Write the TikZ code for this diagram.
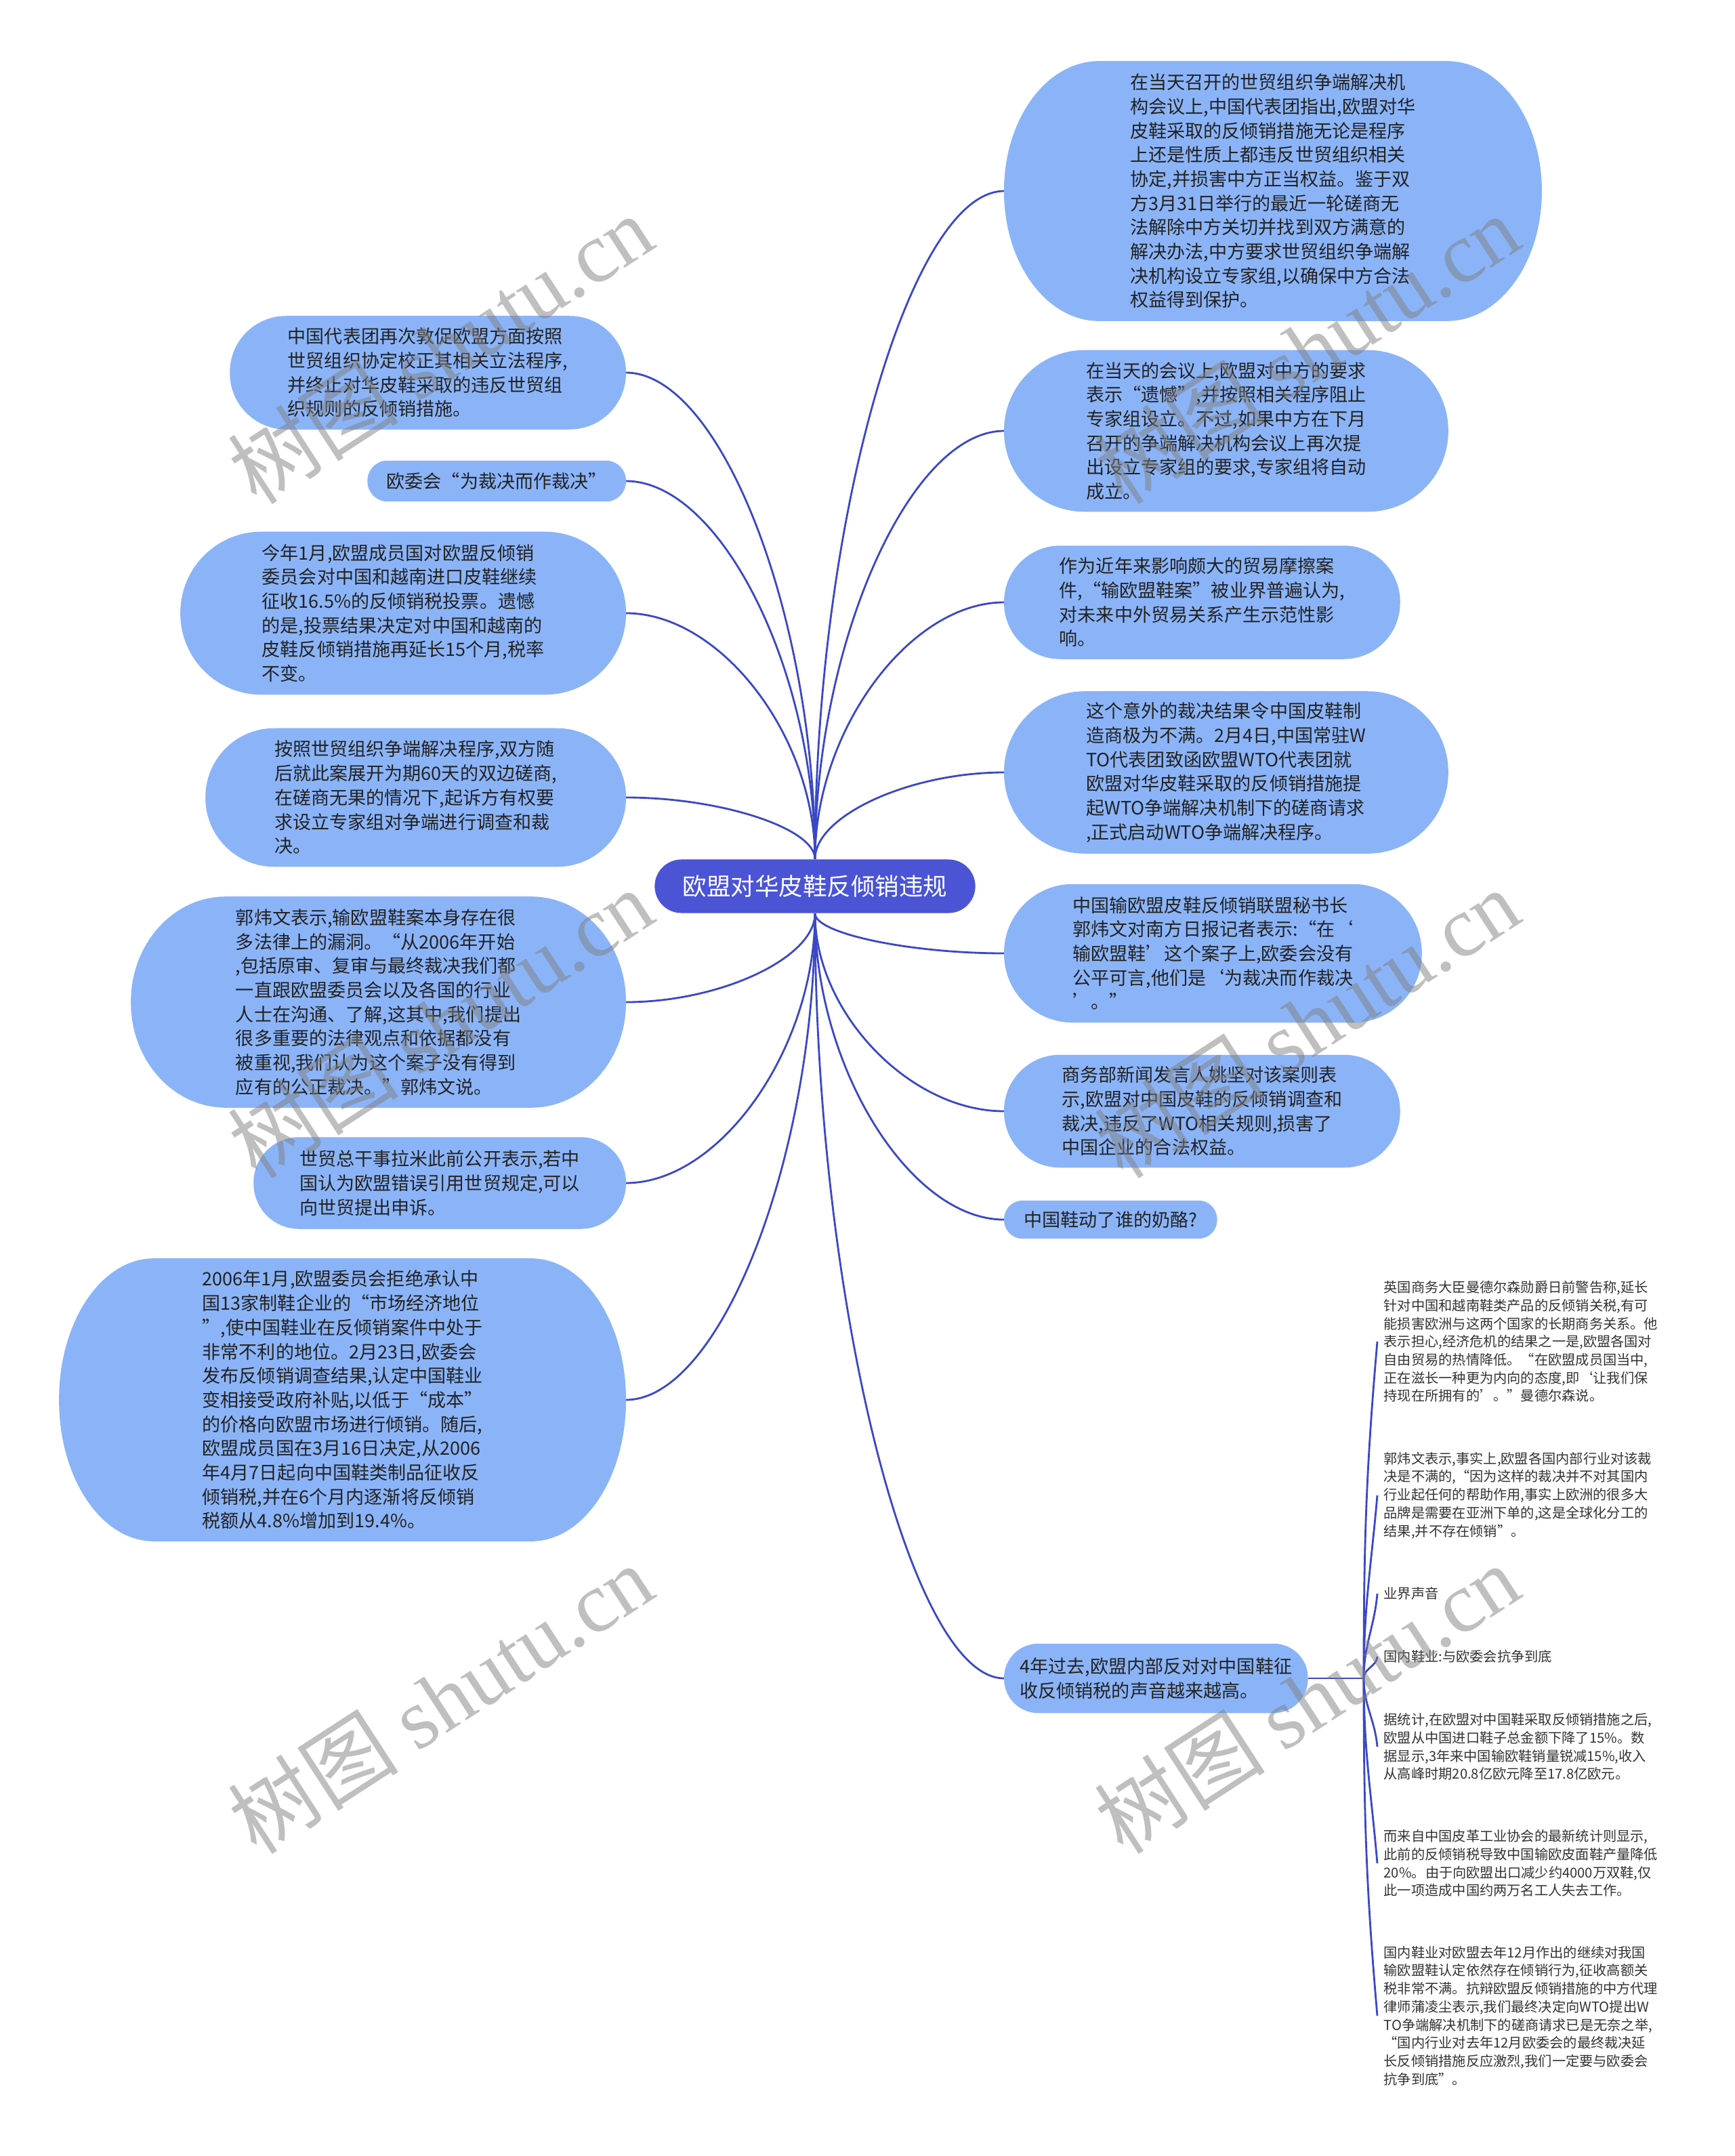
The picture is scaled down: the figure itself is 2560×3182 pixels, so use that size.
\documentclass[tikz,border=0pt]{standalone}
\usepackage{fontspec}
\usepackage{tikz}
\usetikzlibrary{backgrounds,calc}
\newfontfamily\cjk{Noto Sans CJK SC}
\newfontfamily\wmserif{Liberation Serif}
\definecolor{czentro}{HTML}{4A54D5}
\definecolor{clinea}{HTML}{3B48C4}
\definecolor{choja}{HTML}{8BB4F8}
\definecolor{ctinta}{HTML}{222222}
\definecolor{cnota}{HTML}{333333}
\newcommand\hojafont{\cjk\fontsize{7.7pt}{10.15pt}\selectfont}
\newcommand\centrofont{\cjk\fontsize{10.1pt}{12pt}\selectfont}
\newcommand\notafont{\cjk\fontsize{5.75pt}{7.6pt}\selectfont}
\newcommand\wmfont{\cjk\fontsize{36pt}{38pt}\selectfont}

\begin{document}
\begin{tikzpicture}[x=0.01cm, y=-0.01cm,
    leaf/.style 2 args={minimum width=#1, minimum height=#2, align=left, text=ctinta, font=\hojafont, inner sep=2pt},
    rleaf/.style 2 args={leaf={#1}{#2}, anchor=west},
    lleaf/.style 2 args={leaf={#1}{#2}, anchor=east},
    nota/.style={anchor=west, align=left, text=cnota, font=\notafont, inner sep=0pt, inner xsep=0.09cm},
    link/.style={draw=clinea, line width=0.8pt},
    wmark/.style={rotate=33, text=black!50, text opacity=0.5, font=\wmfont}]
  \useasboundingbox (0,0) rectangle (2560,3182);
  \node[fill=czentro, text=white, rounded corners=0.395cm, minimum width=4.73cm, minimum height=0.79cm, font=\centrofont] (c) at (1203,1308) {欧盟对华皮鞋反倾销违规};

  \node[rleaf={7.92cm}{3.82cm}] (r1) at (1482,282) {在当天召开的世贸组织争端解决机\\构会议上,中国代表团指出,欧盟对华\\皮鞋采取的反倾销措施无论是程序\\上还是性质上都违反世贸组织相关\\协定,并损害中方正当权益。鉴于双\\方3月31日举行的最近一轮磋商无\\法解除中方关切并找到双方满意的\\解决办法,中方要求世贸组织争端解\\决机构设立专家组,以确保中方合法\\权益得到保护。};
  \node[rleaf={6.54cm}{2.37cm}] (r2) at (1482,636) {在当天的会议上,欧盟对中方的要求\\表示“遗憾”,并按照相关程序阻止\\专家组设立。不过,如果中方在下月\\召开的争端解决机构会议上再次提\\出设立专家组的要求,专家组将自动\\成立。};
  \node[rleaf={5.83cm}{1.66cm}] (r3) at (1482,889) {作为近年来影响颇大的贸易摩擦案\\件,“输欧盟鞋案”被业界普遍认为,\\对未来中外贸易关系产生示范性影\\响。};
  \node[rleaf={6.54cm}{2.38cm}] (r4) at (1482,1140) {这个意外的裁决结果令中国皮鞋制\\造商极为不满。2月4日,中国常驻W\\TO代表团致函欧盟WTO代表团就\\欧盟对华皮鞋采取的反倾销措施提\\起WTO争端解决机制下的磋商请求\\,正式启动WTO争端解决程序。};
  \node[rleaf={6.15cm}{2.03cm}] (r5) at (1482,1407) {中国输欧盟皮鞋反倾销联盟秘书长\\郭炜文对南方日报记者表示:“在‘\\输欧盟鞋’这个案子上,欧委会没有\\公平可言,他们是‘为裁决而作裁决\\’。”};
  \node[rleaf={5.83cm}{1.65cm}] (r6) at (1482,1640) {商务部新闻发言人姚坚对该案则表\\示,欧盟对中国皮鞋的反倾销调查和\\裁决,违反了WTO相关规则,损害了\\中国企业的合法权益。};
  \node[rleaf={3.13cm}{0.55cm}] (r7) at (1482,1800) {中国鞋动了谁的奶酪?};
  \node[rleaf={4.47cm}{1.01cm}] (r8) at (1482,2477) {4年过去,欧盟内部反对对中国鞋征\\收反倾销税的声音越来越高。};

  \node[lleaf={5.83cm}{1.66cm}] (l1) at (924,550) {中国代表团再次敦促欧盟方面按照\\世贸组织协定校正其相关立法程序,\\并终止对华皮鞋采取的违反世贸组\\织规则的反倾销措施。};
  \node[lleaf={3.80cm}{0.59cm}] (l2) at (924,710) {欧委会“为裁决而作裁决”};
  \node[lleaf={6.56cm}{2.39cm}] (l3) at (924,905) {今年1月,欧盟成员国对欧盟反倾销\\委员会对中国和越南进口皮鞋继续\\征收16.5\%的反倾销税投票。遗憾\\的是,投票结果决定对中国和越南的\\皮鞋反倾销措施再延长15个月,税率\\不变。};
  \node[lleaf={6.19cm}{2.03cm}] (l4) at (924,1177) {按照世贸组织争端解决程序,双方随\\后就此案展开为期60天的双边磋商,\\在磋商无果的情况下,起诉方有权要\\求设立专家组对争端进行调查和裁\\决。};
  \node[lleaf={7.29cm}{3.10cm}] (l5) at (924,1479) {郭炜文表示,输欧盟鞋案本身存在很\\多法律上的漏洞。“从2006年开始\\,包括原审、复审与最终裁决我们都\\一直跟欧盟委员会以及各国的行业\\人士在沟通、了解,这其中,我们提出\\很多重要的法律观点和依据都没有\\被重视,我们认为这个案子没有得到\\应有的公正裁决。”郭炜文说。};
  \node[lleaf={5.48cm}{1.34cm}] (l6) at (924,1746) {世贸总干事拉米此前公开表示,若中\\国认为欧盟错误引用世贸规定,可以\\向世贸提出申诉。};
  \node[lleaf={8.35cm}{4.16cm}] (l7) at (924,2066) {2006年1月,欧盟委员会拒绝承认中\\国13家制鞋企业的“市场经济地位\\”,使中国鞋业在反倾销案件中处于\\非常不利的地位。2月23日,欧委会\\发布反倾销调查结果,认定中国鞋业\\变相接受政府补贴,以低于“成本”\\的价格向欧盟市场进行倾销。随后,\\欧盟成员国在3月16日决定,从2006\\年4月7日起向中国鞋类制品征收反\\倾销税,并在6个月内逐渐将反倾销\\税额从4.8\%增加到19.4\%。};

  \coordinate (jn) at (2013,2477);
  \node[nota] (s1) at (2033,1980) {英国商务大臣曼德尔森勋爵日前警告称,延长\\针对中国和越南鞋类产品的反倾销关税,有可\\能损害欧洲与这两个国家的长期商务关系。他\\表示担心,经济危机的结果之一是,欧盟各国对\\自由贸易的热情降低。“在欧盟成员国当中,\\正在滋长一种更为内向的态度,即‘让我们保\\持现在所拥有的’。”曼德尔森说。};
  \node[nota] (s2) at (2033,2207) {郭炜文表示,事实上,欧盟各国内部行业对该裁\\决是不满的,“因为这样的裁决并不对其国内\\行业起任何的帮助作用,事实上欧洲的很多大\\品牌是需要在亚洲下单的,这是全球化分工的\\结果,并不存在倾销”。};
  \node[nota] (s3) at (2033,2352) {业界声音};
  \node[nota] (s4) at (2033,2445) {国内鞋业:与欧委会抗争到底};
  \node[nota] (s5) at (2033,2578) {据统计,在欧盟对中国鞋采取反倾销措施之后,\\欧盟从中国进口鞋子总金额下降了15\%。数\\据显示,3年来中国输欧鞋销量锐减15\%,收入\\从高峰时期20.8亿欧元降至17.8亿欧元。};
  \node[nota] (s6) at (2033,2750) {而来自中国皮革工业协会的最新统计则显示,\\此前的反倾销税导致中国输欧皮面鞋产量降低\\20\%。由于向欧盟出口减少约4000万双鞋,仅\\此一项造成中国约两万名工人失去工作。};
  \node[nota] (s7) at (2033,2975) {国内鞋业对欧盟去年12月作出的继续对我国\\输欧盟鞋认定依然存在倾销行为,征收高额关\\税非常不满。抗辩欧盟反倾销措施的中方代理\\律师蒲凌尘表示,我们最终决定向WTO提出W\\TO争端解决机制下的磋商请求已是无奈之举,\\“国内行业对去年12月欧委会的最终裁决延\\长反倾销措施反应激烈,我们一定要与欧委会\\抗争到底”。};

  \begin{scope}[on background layer]
    \fill[white] (0,0) rectangle (2560,3182);
    \foreach \n in {r1,r2,r3,r4}
      \draw[link] (c.north) .. controls ($(c.north)!0.5!(c.north |- \n.west)$) and ($(c.north |- \n.west)!0.5!(\n.west)$) .. (\n.west);
    \foreach \n in {r5,r6,r7,r8}
      \draw[link] (c.south) .. controls ($(c.south)!0.5!(c.south |- \n.west)$) and ($(c.south |- \n.west)!0.5!(\n.west)$) .. (\n.west);
    \foreach \n in {l1,l2,l3,l4}
      \draw[link] (c.north) .. controls ($(c.north)!0.5!(c.north |- \n.east)$) and ($(c.north |- \n.east)!0.5!(\n.east)$) .. (\n.east);
    \foreach \n in {l5,l6,l7}
      \draw[link] (c.south) .. controls ($(c.south)!0.5!(c.south |- \n.east)$) and ($(c.south |- \n.east)!0.5!(\n.east)$) .. (\n.east);
    \draw[link] (r8.east) -- (jn);
    \foreach \n in {s1,s2,s3,s4}
      \draw[link] (jn) to[out=90,in=-95] (\n.west);
    \foreach \n in {s5,s6,s7}
      \draw[link] (jn) to[out=-90,in=95] (\n.west);
    \foreach \n/\rx/\ry in {r1/1.4/1.91, r2/1.185/1.185, r3/0.83/0.83, r4/1.19/1.19, r5/1.015/1.015, r6/0.825/0.825, r7/0.275/0.275, r8/0.505/0.505, l1/0.83/0.83, l2/0.295/0.295, l3/1.195/1.195, l4/1.015/1.015, l5/1.4/1.55, l6/0.67/0.67, l7/1.4/2.08}
      \fill[choja] ([xshift=\rx cm]\n.north west) -- ([xshift=-\rx cm]\n.north east)
        arc[start angle=90, end angle=0, x radius=\rx cm, y radius=\ry cm]
        -- ([yshift=\ry cm]\n.south east)
        arc[start angle=0, end angle=-90, x radius=\rx cm, y radius=\ry cm]
        -- ([xshift=\rx cm]\n.south west)
        arc[start angle=270, end angle=180, x radius=\rx cm, y radius=\ry cm]
        -- ([yshift=-\ry cm]\n.north west)
        arc[start angle=180, end angle=90, x radius=\rx cm, y radius=\ry cm]
        -- cycle;
  \end{scope}

  \foreach \wx/\wy [count=\k] in {650/515, 1929/515, 650/1510, 1929/1510, 650/2507, 1929/2507}
    \node[wmark] (wm\k) at (\wx,\wy) {树图 {\wmserif shutu.cn}};
\end{tikzpicture}
\end{document}
